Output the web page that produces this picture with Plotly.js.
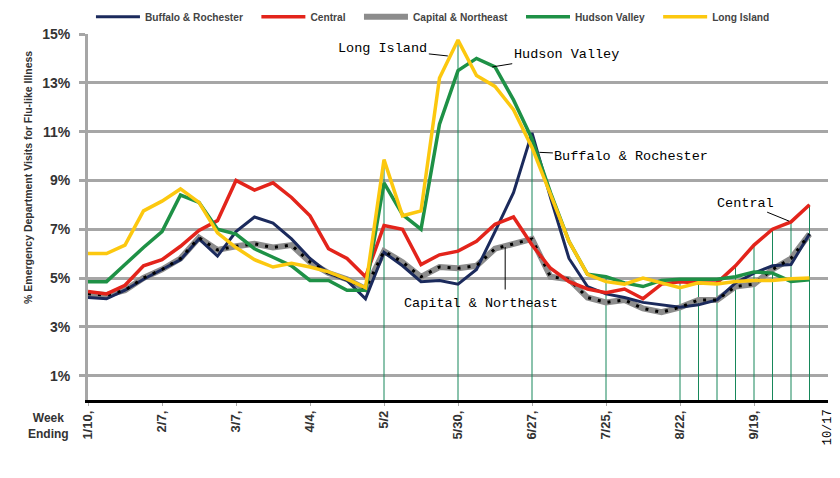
<!DOCTYPE html>
<html>
<head>
<meta charset="utf-8">
<script src="https://cdn.plot.ly/plotly-3.0.1.min.js"></script>
<style>
  html, body { margin: 0; padding: 0; background: #fff; }
  #chart { width: 840px; height: 478px; }
</style>
</head>
<body>
<div id="chart"></div>
<script>
  "use strict";

  // week ending dates, one per point (2009 season)
  const weekEnding = ['1/10', '1/17', '1/24', '1/31', '2/7', '2/14', '2/21', '2/28',
    '3/7', '3/14', '3/21', '3/28', '4/4', '4/11', '4/18', '4/25',
    '5/2', '5/9', '5/16', '5/23', '5/30', '6/6', '6/13', '6/20',
    '6/27', '7/4', '7/11', '7/18', '7/25', '8/1', '8/8', '8/15',
    '8/22', '8/29', '9/5', '9/12', '9/19', '9/26', '10/3', '10/10'];

  // every fourth week gets a label
  const tickWeeks = [0, 4, 8, 12, 16, 20, 24, 28, 32, 36];
  const tickLabels = ['1/10,', '2/7,', '3/7,', '4/4,', '5/2', '5/30,', '6/27,', '7/25,', '8/22,', '9/19,'];

  // % of ED visits for flu-like illness, by region
  const buffalo = [4.2, 4.15, 4.5, 4.95, 5.35, 5.75, 6.6, 5.9, 6.9, 7.5, 7.25, 6.6, 5.8, 5.2, 4.9, 4.15,
    6.05, 5.5, 4.85, 4.9, 4.75, 5.35, 6.9, 8.5, 10.95, 8.3, 5.8, 4.65, 4.35, 4.2, 4.0, 3.9,
    3.8, 3.9, 4.1, 4.8, 5.2, 5.5, 5.55, 6.8];
  const central = [4.45, 4.35, 4.7, 5.5, 5.75, 6.3, 6.95, 7.35, 9.0, 8.6, 8.9, 8.3, 7.55, 6.2, 5.8, 5.05,
    7.15, 7.0, 5.55, 5.95, 6.1, 6.5, 7.2, 7.5, 6.35, 5.4, 4.85, 4.55, 4.4, 4.55, 4.15, 4.75,
    4.85, 4.8, 4.8, 5.5, 6.35, 7.0, 7.3, 8.0];
  const capital = [4.35, 4.3, 4.5, 5.0, 5.35, 5.8, 6.65, 6.15, 6.3, 6.4, 6.25, 6.35, 5.65, 5.2, 4.95, 4.55,
    6.1, 5.65, 5.05, 5.45, 5.4, 5.5, 6.2, 6.4, 6.6, 5.05, 4.95, 4.2, 4.0, 4.1, 3.75, 3.6,
    3.8, 4.1, 4.1, 4.65, 4.75, 5.35, 5.8, 6.8];
  const hudson = [4.85, 4.85, 5.55, 6.25, 6.9, 8.4, 8.1, 7.0, 6.8, 6.2, 5.85, 5.5, 4.9, 4.9, 4.5, 4.5,
    8.9, 7.6, 7.0, 11.3, 13.5, 14.0, 13.65, 12.3, 10.7, 8.5, 6.5, 5.15, 5.05, 4.8, 4.65, 4.9,
    4.95, 4.95, 4.95, 5.05, 5.25, 5.2, 4.86, 4.93];
  const longIsland = [6.0, 6.0, 6.35, 7.75, 8.15, 8.65, 8.1, 6.85, 6.25, 5.75, 5.45, 5.6, 5.45, 5.25, 4.95, 4.6,
    9.85, 7.55, 7.75, 13.2, 14.75, 13.3, 12.85, 11.9, 10.35, 8.4, 6.5, 5.15, 4.85, 4.75, 5.0, 4.8,
    4.6, 4.8, 4.75, 4.86, 4.9, 4.9, 4.97, 5.0];

  // weeks that carry a thin drop line (from the axis up to the highest region)
  const dropWeeks = [16, 20, 24, 28, 32, 33, 34, 35, 36, 37, 38, 39];

  const x = weekEnding.map((d, i) => i);
  const allSeries = [buffalo, central, capital, hudson, longIsland];

  // build drop lines as one broken trace
  let dropX = [], dropY = [];
  dropWeeks.forEach(w => {
    let top = Math.max(...allSeries.map(s => s[w]));
    dropX.push(w, w, null);
    dropY.push(0, top, null);
  });

  const sansBold = {family: 'Liberation Sans, Arial, sans-serif', weight: 'bold', color: '#333'};
  const mono = {family: 'Liberation Mono, DejaVu Sans Mono, monospace', size: 13.5, color: '#000'};

  // a little extra room after each legend label (the legend gap is fixed in plotly)
  const pad = '\u00a0\u00a0\u00a0';

  function line(name, y, color, width, rank) {
    return {
      type: 'scatter', mode: 'lines', name: name + pad, x: x, y: y,
      line: {color: color, width: width},
      legendrank: rank,
      hoverinfo: 'skip',
    };
  }

  let traces = [
    {
      type: 'scatter', mode: 'lines', x: dropX, y: dropY, showlegend: false,
      line: {color: '#17875a', width: 1}, hoverinfo: 'skip',
    },
    line('Capital & Northeast', capital, '#8c8c8c', 6, 3),
    line('Buffalo & Rochester', buffalo, '#1b2a5c', 3, 1),
    // black dots sitting on the grey Capital line
    {
      type: 'scatter', mode: 'lines', x: x, y: capital, showlegend: false,
      line: {color: '#000', width: 3, dash: '3px,7px'}, hoverinfo: 'skip',
    },
    line('Central', central, '#e3241b', 3.5, 2),
    line('Hudson Valley', hudson, '#1e9146', 3.5, 4),
    line('Long Island', longIsland, '#fcc80f', 3.5, 5),
  ];

  // callouts: text with a thin leader line to the series
  let callout = (text, xi, yv, ax, ay) => ({
    x: xi, y: yv, xref: 'x', yref: 'y', text: text, font: mono,
    showarrow: true, arrowhead: 0, arrowwidth: 1, arrowcolor: '#000',
    ax: ax, ay: ay, standoff: 0,
  });

  let annotations = [
    callout('Long Island', 19.45, 14.1, -65, -7),
    callout('Hudson Valley', 21.85, 13.65, 74, -12),
    callout('Buffalo & Rochester', 24.4, 10.15, 92, 4),
    callout('Central', 37.9, 7.33, -44, -18),
    // Capital & Northeast: text below, vertical leader up to the line
    {x: 22.55, y: 6.27, xref: 'x', yref: 'y', text: '', showarrow: true, arrowhead: 0,
      arrowwidth: 1, arrowcolor: '#000', ax: 0, ay: 44, standoff: 0},
    {x: 21.25, y: 3.95, xref: 'x', yref: 'y', text: 'Capital & Northeast', font: mono, showarrow: false},
    // last week label, typed in a different face
    {x: 40, y: -0.02, xref: 'x', yref: 'paper', text: '10/17', font: Object.assign({}, mono, {size: 12}),
      textangle: -90, showarrow: false, xanchor: 'center', yanchor: 'top'},
    {x: -0.081, y: 0.607, xref: 'paper', yref: 'paper', showarrow: false, textangle: -90,
      xanchor: 'center', yanchor: 'middle',
      text: '% Emergency Department Visits for Flu-like Illness',
      font: Object.assign({}, sansBold, {size: 10.5})},
    {x: -0.054, y: -0.07, xref: 'paper', yref: 'paper', showarrow: false,
      xanchor: 'center', yanchor: 'middle',
      text: 'Week<br>Ending', font: Object.assign({}, sansBold, {size: 12})},
  ];

  let layout = {
    width: 840, height: 478,
    margin: {l: 88, r: 12, t: 34, b: 78, pad: 0, autoexpand: false},
    paper_bgcolor: '#fff', plot_bgcolor: '#fff',
    showlegend: true,
    legend: {
      orientation: 'h', x: 0.004, y: 1.047, xanchor: 'left', yanchor: 'middle',
      font: Object.assign({}, sansBold, {size: 10.2, color: '#444'}),
      itemwidth: 44, bgcolor: 'rgba(0,0,0,0)', traceorder: 'normal',
    },
    xaxis: {
      range: [0, 40], showgrid: false, zeroline: false,
      showline: true, linecolor: '#000', linewidth: 2.5,
      tickmode: 'array', tickvals: tickWeeks, ticktext: tickLabels,
      tickangle: -90, ticks: 'outside', ticklen: 3, tickcolor: '#aaa',
      tickfont: Object.assign({}, sansBold, {size: 13}),
    },
    yaxis: {
      range: [0, 15], tickmode: 'linear', tick0: 1, dtick: 2, ticksuffix: '%',
      showgrid: true, gridcolor: '#a6a6a6', gridwidth: 3, zeroline: false,
      showline: true, linecolor: '#a6a6a6', linewidth: 3,
      ticks: 'outside', ticklen: 6, tickwidth: 3, tickcolor: '#a6a6a6',
      ticklabelstandoff: 6,
      tickfont: Object.assign({}, sansBold, {size: 14}),
    },
    annotations: annotations,
  };

  Plotly.newPlot('chart', traces, layout, {displayModeBar: false, staticPlot: true});
</script>
</body>
</html>
